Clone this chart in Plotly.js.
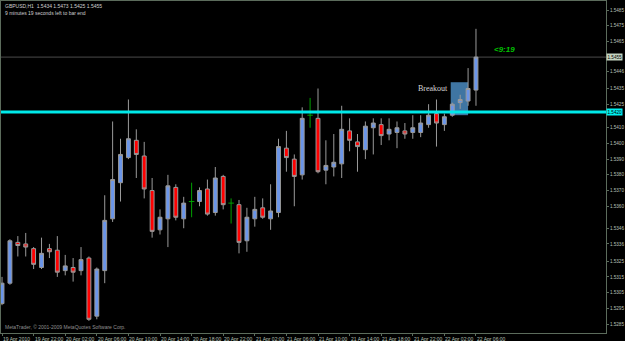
<!DOCTYPE html>
<html>
<head>
<meta charset="utf-8">
<script src="https://cdn.plot.ly/plotly-3.0.1.min.js"></script>
<style>
html,body{margin:0;padding:0;background:#000;}
#chart{width:625px;height:341px;}
</style>
</head>
<body>
<div id="chart"></div>
<script>
// GBPUSD H1, 19 Apr 18:00 -> 22 Apr 06:00 (61 bars)
const openP  = [1.5298,1.5311,1.5337,1.5336,1.5333,1.5321,1.5333,1.5332,1.5319,1.5321,1.5319,1.5327,1.5290,1.5319,1.5352,1.5375,1.5391,1.5402,1.5392,1.5370,1.5345,1.5352,1.5372,1.5352,1.5363,1.5363,1.5371,1.5356,1.5379,1.5362,1.5361,1.5338,1.5352,1.5359,1.5352,1.5356,1.5397,1.5390,1.5380,1.5418,1.5416,1.5383,1.5385,1.5387,1.5408,1.5401,1.5396,1.5410,1.5412,1.5406,1.5407,1.5408,1.5407,1.5407,1.5412,1.5419,1.5412,1.5418,1.5426,1.5427,1.5434];
const highP  = [1.5315,1.5339,1.5341,1.5343,1.5334,1.5340,1.5336,1.5341,1.5329,1.5327,1.5334,1.5328,1.5321,1.5367,1.5414,1.5403,1.5428,1.5409,1.5401,1.5378,1.5358,1.5380,1.5374,1.5366,1.5375,1.5372,1.5377,1.5385,1.5380,1.5365,1.5364,1.5359,1.5366,1.5365,1.5374,1.5403,1.5408,1.5393,1.5423,1.5429,1.5435,1.5402,1.5406,1.5424,1.5416,1.5406,1.5414,1.5416,1.5416,1.5416,1.5414,1.5413,1.5418,1.5418,1.5425,1.5428,1.5419,1.5426,1.5431,1.5448,1.5473];
const lowP   = [1.5297,1.5310,1.5328,1.5328,1.5320,1.5320,1.5327,1.5315,1.5316,1.5312,1.5316,1.5287,1.5288,1.5311,1.5350,1.5363,1.5390,1.5378,1.5365,1.5340,1.5342,1.5334,1.5351,1.5346,1.5353,1.5360,1.5354,1.5354,1.5358,1.5349,1.5330,1.5331,1.5347,1.5352,1.5345,1.5353,1.5382,1.5360,1.5377,1.5410,1.5381,1.5374,1.5379,1.5378,1.5395,1.5382,1.5390,1.5393,1.5399,1.5402,1.5397,1.5403,1.5403,1.5404,1.5410,1.5398,1.5408,1.5417,1.5422,1.5424,1.5424];
const closeP = [1.5311,1.5338,1.5335,1.5334,1.5323,1.5330,1.5331,1.5318,1.5322,1.5318,1.5326,1.5288,1.5320,1.5351,1.5377,1.5393,1.5403,1.5393,1.5371,1.5344,1.5353,1.5373,1.5353,1.5362,1.5363,1.5370,1.5355,1.5378,1.5361,1.5362,1.5337,1.5353,1.5358,1.5353,1.5357,1.5398,1.5391,1.5379,1.5416,1.5418,1.5382,1.5386,1.5388,1.5409,1.5402,1.5398,1.5411,1.5413,1.5405,1.5409,1.5410,1.5406,1.5410,1.5413,1.5418,1.5413,1.5417,1.5425,1.5428,1.5435,1.5455];

const timeTickIdx = [0,4,8,12,16,20,24,28,32,36,40,44,48,52,56,60];
const timeTickLabels = ["19 Apr 2010","19 Apr 22:00","20 Apr 02:00","20 Apr 06:00","20 Apr 10:00","20 Apr 14:00","20 Apr 18:00","20 Apr 22:00","21 Apr 02:00","21 Apr 06:00","21 Apr 10:00","21 Apr 14:00","21 Apr 18:00","21 Apr 22:00","22 Apr 02:00","22 Apr 06:00"];
const priceTicks = [1.5485,1.5475,1.5465,1.5446,1.5435,1.5425,1.5410,1.5400,1.5390,1.5380,1.5370,1.5360,1.5346,1.5336,1.5325,1.5315,1.5305,1.5295,1.5285];

const levelPrice = 1.5420;     // horizontal breakout level
const bidPrice = 1.5455;       // current bid line
const breakoutBox = {i0:56.8, i1:59.0, p0:1.5418, p1:1.5439};

const idx = openP.map((_, i) => i);
const body = idx.filter(i => openP[i] !== closeP[i]);
const doji = idx.filter(i => openP[i] === closeP[i]);

const candles = {
  type:'candlestick',
  x: body, open: body.map(i=>openP[i]), high: body.map(i=>highP[i]),
  low: body.map(i=>lowP[i]), close: body.map(i=>closeP[i]),
  increasing:{line:{color:'#9a9a9a', width:1}, fillcolor:'#6a95ea'},
  decreasing:{line:{color:'#9a9a9a', width:1}, fillcolor:'#ff0000'},
  whiskerwidth:0, hoverinfo:'skip', showlegend:false
};
const dx = [], dy = [];
doji.forEach(i => {
  dx.push(i, i, null, i-0.35, i+0.35, null);
  dy.push(highP[i], lowP[i], null, openP[i], openP[i], null);
});
const dojiTrace = {type:'scatter', mode:'lines', x:dx, y:dy,
  line:{color:'#00a000', width:1}, hoverinfo:'skip', showlegend:false};

const axisCol = '#5c6c5c';
const txtCol = '#b8c0b8';
const tickFontY = {family:'Liberation Sans, Arial', size:4.6, color:txtCol};
const tickFontX = {family:'Liberation Sans, Arial', size:5, color:txtCol};

const xLabelAnns = timeTickIdx.map((v, k) => ({
  xref:'x', yref:'paper', x:v, y:0, xanchor:'left', yanchor:'top',
  xshift:-1, yshift:-1, text:timeTickLabels[k], showarrow:false,
  font:tickFontX
}));

const layout = {
  width:625, height:341,
  paper_bgcolor:'#000000', plot_bgcolor:'#000000',
  margin:{l:1, r:19, t:1, b:8},
  showlegend:false,
  dragmode:false,
  xaxis:{
    range:[-0.13, 76.46], showgrid:false, zeroline:false,
    rangeslider:{visible:false},
    showline:true, linecolor:axisCol, linewidth:1, mirror:true,
    tickmode:'array', tickvals:timeTickIdx, showticklabels:false,
    ticks:'outside', ticklen:2, tickcolor:axisCol
  },
  yaxis:{
    side:'right', range:[1.527927, 1.549073], showgrid:false, zeroline:false,
    showline:true, linecolor:axisCol, linewidth:1, mirror:true,
    tickmode:'array', tickvals:priceTicks, ticktext:priceTicks.map(v=>v.toFixed(4)),
    ticks:'outside', ticklen:2, tickcolor:axisCol,
    tickfont:tickFontY
  },
  shapes:[
    {type:'rect', xref:'x', yref:'y', x0:breakoutBox.i0, x1:breakoutBox.i1,
     y0:breakoutBox.p0, y1:breakoutBox.p1, fillcolor:'#4682b4', opacity:0.9,
     line:{width:0}, layer:'below'},
    {type:'line', xref:'paper', yref:'y', x0:0, x1:1, y0:bidPrice, y1:bidPrice,
     line:{color:'#4a4a4a', width:1}, layer:'below'},
    {type:'line', xref:'paper', yref:'y', x0:0, x1:1, y0:levelPrice, y1:levelPrice,
     line:{color:'#00eaea', width:3}}
  ],
  annotations:[
    {xref:'paper', yref:'paper', x:0, y:1, xanchor:'left', yanchor:'top', xshift:2, yshift:0,
     text:'GBPUSD,H1  1.5434 1.5473 1.5425 1.5455<br>9 minutes 19 seconds left to bar end',
     align:'left', showarrow:false,
     font:{family:'Liberation Sans, Arial', size:5, color:'#d0d0d0'}},
    {xref:'paper', yref:'paper', x:0, y:0, xanchor:'left', yanchor:'bottom', xshift:2, yshift:1,
     text:'MetaTrader, © 2001-2009 MetaQuotes Software Corp.', showarrow:false,
     font:{family:'Liberation Sans, Arial', size:5, color:'#909090'}},
    {xref:'x', yref:'y', x:breakoutBox.i0, y:1.5435, xanchor:'right', yanchor:'middle', xshift:-1,
     text:'Breakout', showarrow:false,
     font:{family:'Liberation Serif, serif', size:8, color:'#d8d8d8'}},
    {xref:'x', yref:'y', x:62, y:bidPrice, xanchor:'left', yanchor:'bottom', yshift:1,
     text:'<b><i>&lt;9:19</i></b>', showarrow:false,
     font:{family:'Liberation Sans, Arial', size:8, color:'#00c000'}},
    {xref:'paper', yref:'y', x:1, y:bidPrice, xanchor:'left', yanchor:'middle', xshift:0,
     text:bidPrice.toFixed(4), showarrow:false, bgcolor:'#c4d4c0', borderpad:0.5,
     font:{family:'Liberation Sans, Arial', size:4.6, color:'#000000'}},
    {xref:'paper', yref:'y', x:1, y:levelPrice, xanchor:'left', yanchor:'middle', xshift:0,
     text:levelPrice.toFixed(4), showarrow:false, bgcolor:'#00f0f0', borderpad:0.5,
     font:{family:'Liberation Sans, Arial', size:4.6, color:'#000000'}}
  ].concat(xLabelAnns)
};

Plotly.newPlot('chart', [candles, dojiTrace], layout, {staticPlot:true, displayModeBar:false});
</script>
</body>
</html>
